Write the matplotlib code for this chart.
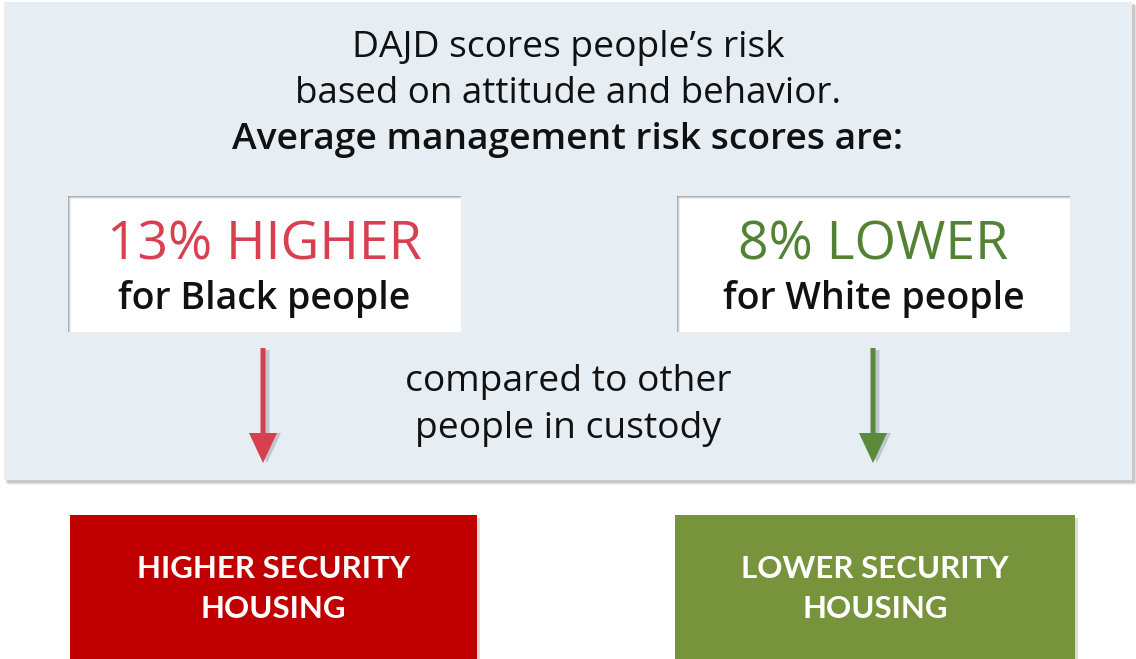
import matplotlib.pyplot as plt
from matplotlib.patches import Rectangle, FancyArrow

# text content
title_lines = ["DAJD scores people\u2019s risk", "based on attitude and behavior."]
title_bold = "Average management risk scores are:"
pct_labels = ["13% HIGHER", "8% LOWER"]
group_labels = ["for Black people", "for White people"]
middle_lines = ["compared to other", "people in custody"]
housing_labels = ["HIGHER SECURITY\nHOUSING", "LOWER SECURITY\nHOUSING"]

accent = ["#D9404F", "#548235"]
box_colors = ["#C00000", "#77933C"]
box_x = [(70, 477), (675, 1075)]
card_x = [(68, 461), (677, 1070)]
arrow_x = [263, 873]

FONT = "Open Sans"

fig = plt.figure(figsize=(11.36, 6.59), dpi=100)
ax = fig.add_axes([0, 0, 1, 1])
ax.set_xlim(0, 1136)
ax.set_ylim(659, 0)
ax.axis("off")

# light blue panel with soft shadow
for i, a in enumerate([0.10, 0.15, 0.25]):
    off = 4 - i
    ax.add_patch(Rectangle((4 + off, 2 + off), 1129, 479, color="#808080", alpha=a, lw=0))
ax.add_patch(Rectangle((4, 2), 1128, 478, color="#E6EEF4", lw=0))

ax.text(568, 48, title_lines[0], ha="center", va="center", fontsize=26.8, family=FONT, color="#111111")
ax.text(568, 94, title_lines[1], ha="center", va="center", fontsize=26.5, family=FONT, color="#111111")
ax.text(568, 140, title_bold, ha="center", va="center", fontsize=26.8, family=FONT,
        fontweight="semibold", color="#111111")

for i in range(2):
    x0, x1 = card_x[i]
    # white card with inner shadow on top/left
    ax.add_patch(Rectangle((x0, 196), x1 - x0, 136, color="white", lw=0))
    for k, a in enumerate([0.55, 0.3, 0.12]):
        ax.add_patch(Rectangle((x0 + k, 196 + k), x1 - x0 - k, 1, color="#707070", alpha=a, lw=0))
        ax.add_patch(Rectangle((x0 + k, 196 + k), 1, 136 - k, color="#707070", alpha=a, lw=0))
    cx = (x0 + x1) / 2
    ax.text(cx, 246, pct_labels[i], ha="center", va="center", fontsize=38.5, family=FONT,
            fontweight="medium", color=accent[i])
    ax.text(cx, 299, group_labels[i], ha="center", va="center", fontsize=27, family=FONT,
            fontweight="semibold", color="#111111")

    # arrow with shadow
    xa = arrow_x[i]
    ax.add_patch(FancyArrow(xa + 4, 350, 0, 113, width=5, head_width=28, head_length=30,
                            length_includes_head=True, color="#9AA3AA", alpha=0.5, lw=0))
    ax.add_patch(FancyArrow(xa, 348, 0, 115, width=5, head_width=28, head_length=30,
                            length_includes_head=True, color=accent[i] if i == 0 else "#5A8A3A", lw=0))

ax.text(568, 382, middle_lines[0], ha="center", va="center", fontsize=26.8, family=FONT, color="#111111")
ax.text(568, 429, middle_lines[1], ha="center", va="center", fontsize=26.8, family=FONT, color="#111111")

for i in range(2):
    x0, x1 = box_x[i]
    ax.add_patch(Rectangle((x0 + 3, 518), x1 - x0, 144, color="#999999", alpha=0.35, lw=0))
    ax.add_patch(Rectangle((x0, 515), x1 - x0, 145, color=box_colors[i], lw=0))
    ax.text((x0 + x1) / 2, 589, housing_labels[i], ha="center", va="center", fontsize=22.5,
            family="Lato", fontweight="bold", color="white", linespacing=1.55)

fig.savefig("out.png", dpi=100)
